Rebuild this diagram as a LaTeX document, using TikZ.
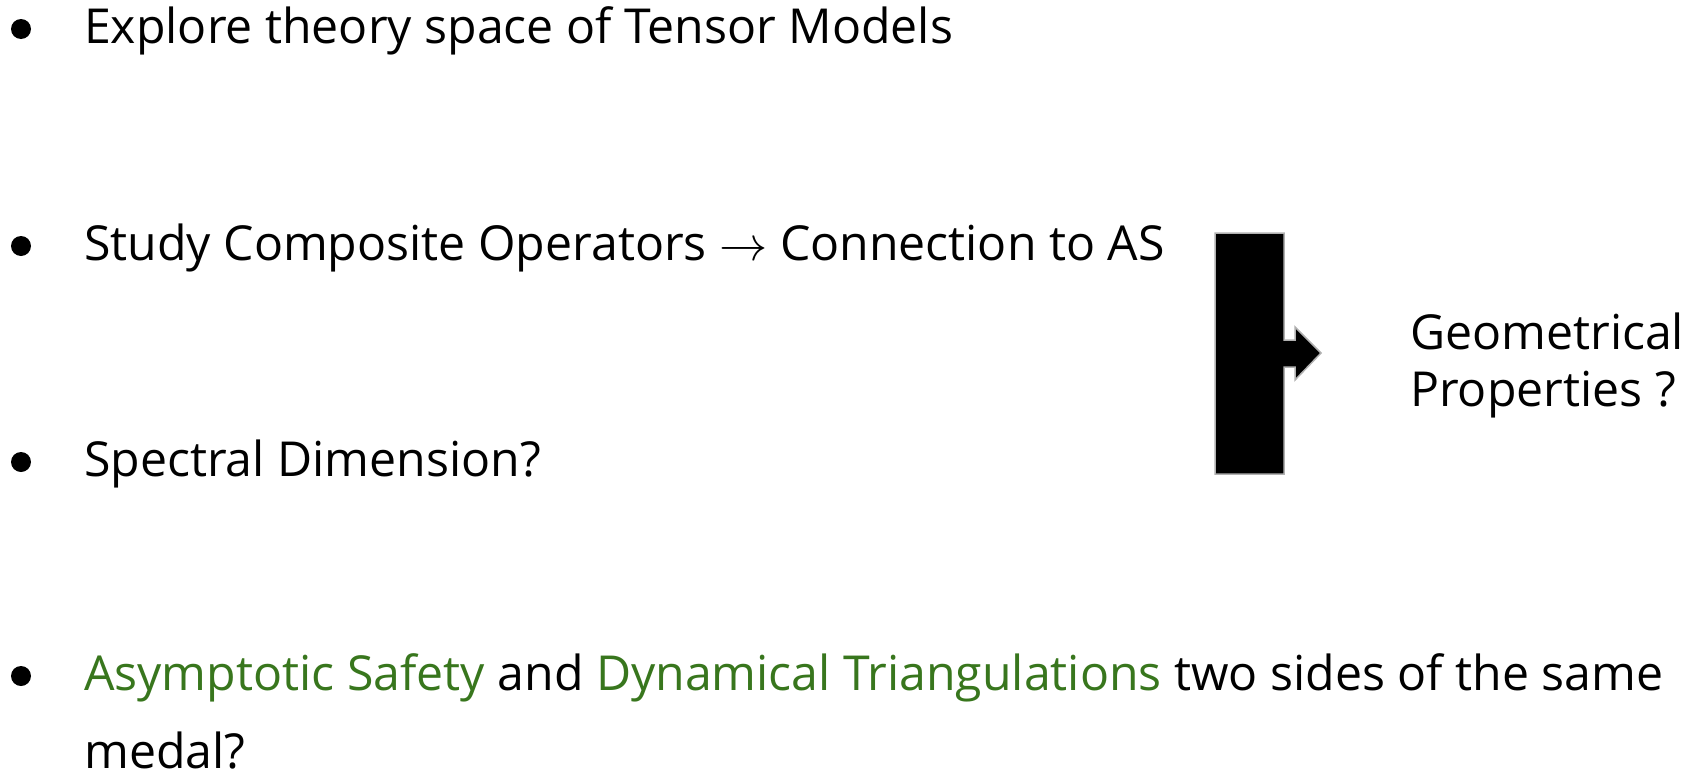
\documentclass[tikz,border=0pt]{standalone}
\usepackage{fix-cm}
\usepackage{fontspec}
\setmainfont{Open Sans}
\definecolor{gdgreen}{HTML}{38761D}
\definecolor{outl}{HTML}{B0B0B0}
\tikzset{
  txt/.style={anchor=base west, inner sep=0pt, font=\fontsize{48.2}{58}\selectfont},
  bul/.style={circle, fill=black, inner sep=0pt, minimum size=20pt},
}
\begin{document}
\begin{tikzpicture}[x=1pt,y=-1pt]
\useasboundingbox (0,0) rectangle (1684,779);
% bullets
\node[bul] (b1) at (21,29) {};
\node[bul] (b2) at (21,246) {};
\node[bul] (b3) at (21,462) {};
\node[bul] (b4) at (21,676) {};
% texts
\node[txt] (t1) at (84,43) {Explore theory space of Tensor Models};
\node[txt] (t2) at (84,260) {Study Composite Operators $\rightarrow$ Connection to AS};
\node[txt] (t3) at (84,476) {Spectral Dimension?};
\node[txt] (t4) at (84,690) {\textcolor{gdgreen}{Asymptotic Safety} and \textcolor{gdgreen}{Dynamical Triangulations} two sides of the same};
\node[txt] (t5) at (84,768) {medal?};
\node[txt] (g1) at (1410,349) {Geometrical};
\node[txt] (g2) at (1410,406) {Properties ?};
% bracket arrow shape
\draw[fill=black, draw=outl, line width=1.5pt]
  (1215,233) -- (1284,233) -- (1284,340) -- (1295,340) -- (1295,327)
  -- (1321,353) -- (1295,380) -- (1295,367) -- (1284,367) -- (1284,474)
  -- (1215,474) -- cycle;
\end{tikzpicture}
\end{document}
